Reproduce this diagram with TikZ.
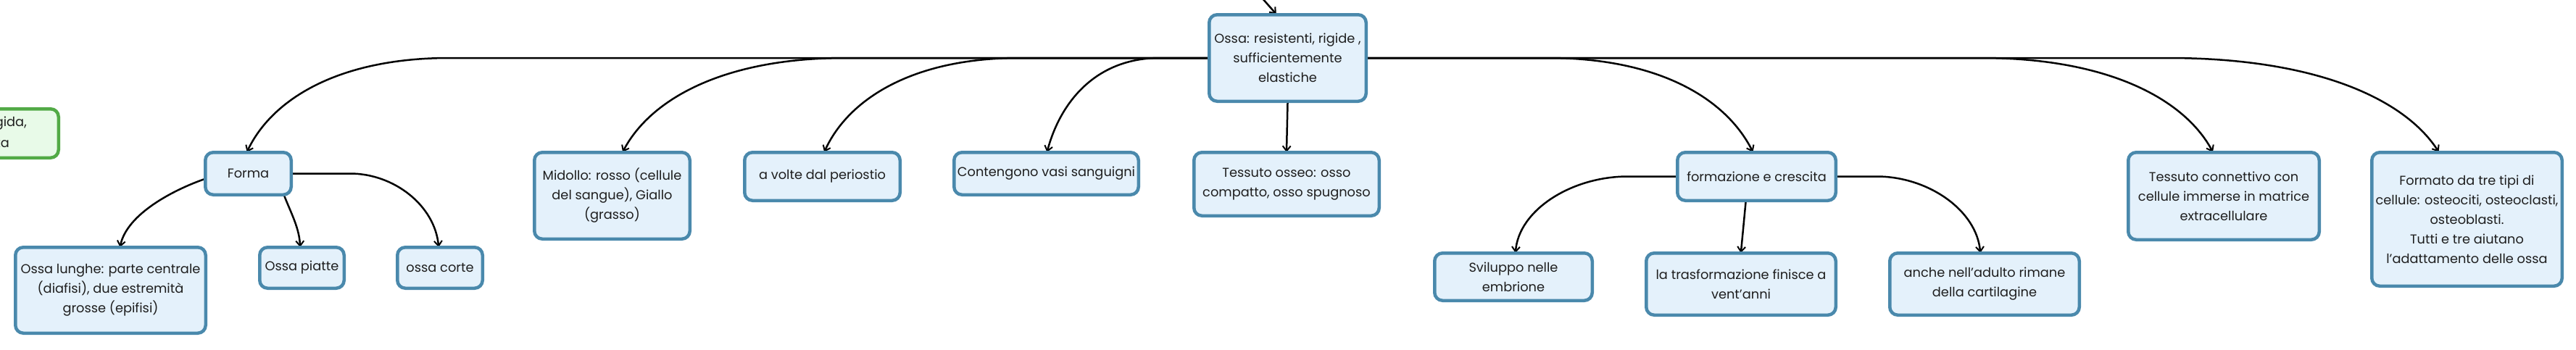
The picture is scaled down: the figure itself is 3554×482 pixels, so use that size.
\documentclass[tikz,border=0pt]{standalone}
\usepackage{fontspec}
\setmainfont{Poppins}
\usetikzlibrary{arrows.meta,calc,backgrounds}
\definecolor{bborder}{RGB}{74,137,172}
\definecolor{bfill}{RGB}{228,241,251}
\definecolor{gborder}{RGB}{82,170,70}
\definecolor{gfill}{RGB}{232,250,232}
\definecolor{txt}{RGB}{30,30,30}
\begin{document}
\begin{tikzpicture}[x=1pt,y=-1pt,
  box/.style={draw=bborder, fill=bfill, line width=4.5pt, rounded corners=11pt,
    align=center, inner sep=0pt, font=\fontsize{17.8}{27}\selectfont, text=txt},
  gbox/.style={box, draw=gborder, fill=gfill},
  frag/.style={inner sep=0pt, font=\fontsize{17.8}{27}\selectfont, text=txt},
  conn/.style={line width=2.5pt, line cap=round, shorten >=-2pt,
    -{Straight Barb[length=7pt,width=11pt,line width=2pt]}},
  link/.style={line width=2.5pt}]
\path[use as bounding box, clip] (0,0) rectangle (3554,482);

% nodes
\node[box, minimum width=216.5pt, minimum height=119.5pt] (ossa) at (1776.5,80) {Ossa: resistenti, rigide ,\\ sufficientemente\\ elastiche};
\node[box, minimum width=118.5pt, minimum height=58.5pt] (forma) at (342.5,239.5) {Forma};
\node[box, minimum width=262.5pt, minimum height=118.5pt] (lunghe) at (152.5,400.5) {Ossa lunghe: parte centrale\\ (diafisi), due estremità\\ grosse (epifisi)};
\node[box, minimum width=116.5pt, minimum height=56.5pt] (piatte) at (416.5,369.5) {Ossa piatte};
\node[box, minimum width=117.5pt, minimum height=56.5pt] (corte) at (607,369.5) {ossa corte};
\node[box, minimum width=214.5pt, minimum height=119.5pt] (midollo) at (844.5,270) {Midollo: rosso (cellule\\ del sangue), Giallo\\ (grasso)};
\node[box, minimum width=214.5pt, minimum height=66.5pt] (volte) at (1134.5,243.5) {a volte dal periostio};
\node[box, minimum width=254.5pt, minimum height=58.5pt] (conten) at (1443.5,239.5) {Contengono vasi sanguigni};
\node[box, minimum width=255.5pt, minimum height=87.5pt] (tosseo) at (1775,254) {Tessuto osseo: osso\\ compatto, osso spugnoso};
\node[box, minimum width=218.5pt, minimum height=66.5pt] (formaz) at (2423.5,243.5) {formazione e crescita};
\node[box, minimum width=217.5pt, minimum height=65.5pt] (svil) at (2088,382) {Sviluppo nelle\\ embrione};
\node[box, minimum width=261.5pt, minimum height=85.5pt] (trasf) at (2402,392) {la trasformazione finisce a\\ vent'anni};
\node[box, minimum width=261.5pt, minimum height=85.5pt] (anche) at (2738,392) {anche nell'adulto rimane\\ della cartilagine};
\node[box, minimum width=263.5pt, minimum height=120.5pt] (tconn) at (3068,270.5) {Tessuto connettivo con\\ cellule immerse in matrice\\ extracellulare};
\node[box, minimum width=262.5pt, minimum height=184.5pt] (formato) at (3403.5,302.5) {Formato da tre tipi di\\ cellule: osteociti, osteoclasti,\\ osteoblasti.\\ Tutti e tre aiutano\\ l'adattamento delle ossa};
\node[gbox, minimum width=138.5pt, minimum height=67.5pt] (green) at (11.5,184) {};
\node[frag, anchor=east] (g1) at (37,170) {gida,};
\node[frag, anchor=east] (g2) at (13,197) {ta};

\coordinate (topin) at (1733,-12);

\begin{scope}[on background layer]
% trunk, left side
\draw[conn] (ossa.west) -- (620,80) .. controls (467,80) and (375,137) .. ($(forma.north)+(-1,0)$);
\draw[conn] (ossa.west) -- (1166,80) .. controls (998,80) and (897,137) .. ($(midollo.north)+(15.5,0)$);
\draw[conn] (ossa.west) -- (1406,80) .. controls (1259,80) and (1170,137) .. ($(volte.north)+(3.5,0)$);
\draw[conn] (ossa.west) -- (1600,80) .. controls (1515,80) and (1464,137) .. ($(conten.north)+(1.5,0)$);
\draw[conn] (ossa.south) -- (tosseo.north);
% trunk, right side
\draw[conn] (ossa.east) -- (2136,80) .. controls (2290,80) and (2382,137) .. ($(formaz.north)+(-6,0)$);
\draw[conn] (ossa.east) -- (2734,80) .. controls (2909,80) and (3014,137) .. ($(tconn.north)+(-16,0)$);
\draw[conn] (ossa.east) -- (2991,80) .. controls (3196,80) and (3318,137) .. ($(formato.north)+(-40,0)$);
% incoming
\draw[conn] (topin) -- ($(ossa.north)+(-17,0)$);
% forma children
\draw[conn] ($(forma.west)+(0,8)$) .. controls (240,262) and (175,295) .. ($(lunghe.north)+(13.5,0)$);
\draw[conn] ($(forma.south)+(50,0)$) .. controls (402,295) and (413,315) .. ($(piatte.north)+(-2.5,0)$);
\draw[conn] (forma.east) -- (483,239.5) .. controls (544,239.5) and (600,284) .. ($(corte.north)+(-2,0)$);
% formazione children
\draw[conn] (formaz.west) -- (2246,243.5) .. controls (2168,243.5) and (2095,290) .. ($(svil.north)+(3,0)$);
\draw[conn] ($(formaz.south)+(-15,0)$) -- (trasf.north);
\draw[conn] (formaz.east) -- (2589,243.5) .. controls (2660,243.5) and (2727,290) .. ($(anche.north)+(-6,0)$);
\end{scope}
\end{tikzpicture}
\end{document}
